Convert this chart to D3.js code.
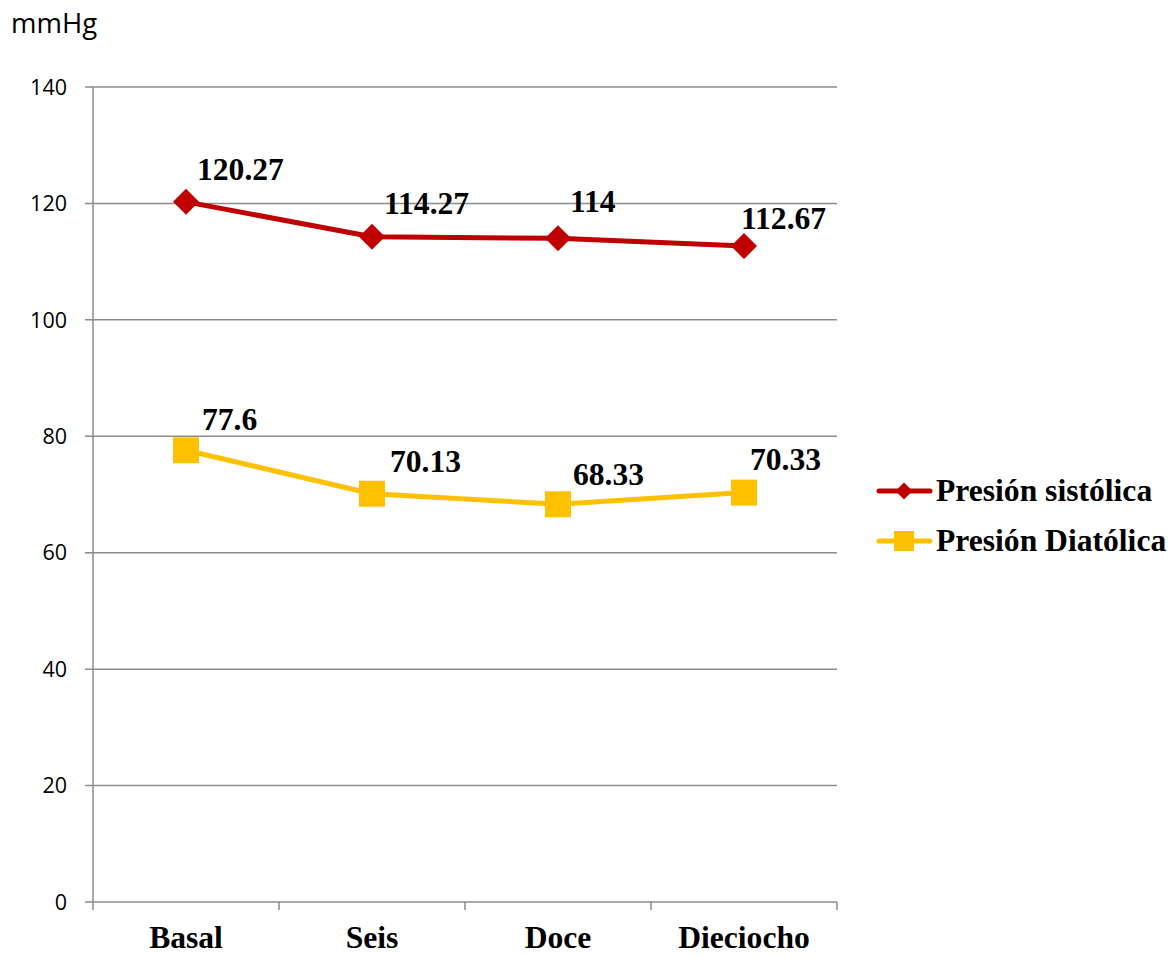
<!DOCTYPE html>
<html>
<head>
<meta charset="utf-8">
<script src="https://cdn.jsdelivr.net/npm/d3@7"></script>
<style>
  html, body { margin: 0; padding: 0; background: #fff; }
  svg { display: block; }
</style>
</head>
<body>
<div id="chart"></div>
<script>
// Blood pressure at each visit (mmHg)
const categories = ["Basal", "Seis", "Doce", "Dieciocho"];
const sistolica = [120.27, 114.27, 114, 112.67];
const diastolica = [77.6, 70.13, 68.33, 70.33];
const seriesNames = ["Presión sistólica", "Presión Diatólica"];
const yTicks = [0, 20, 40, 60, 80, 100, 120, 140];
const yUnit = "mmHg";

const W = 1176, H = 957;
const plot = { left: 93, right: 837, top: 87, bottom: 902 };
const red = "#C00000", gold = "#FFC000", grid = "#8c8c8c";
const serif = "'Liberation Serif', 'Times New Roman', serif";
const sans = "'Open Sans', 'Liberation Sans', sans-serif";
const labelSize = 31.6;

const svg = d3.select("#chart").append("svg")
  .attr("width", W).attr("height", H);

const x = d3.scaleBand().domain(categories)
  .range([plot.left, plot.right]).paddingInner(0).paddingOuter(0);
const y = d3.scaleLinear().domain([0, 140]).range([plot.bottom, plot.top]);
const cx = c => x(c) + x.bandwidth() / 2;

// horizontal gridlines
svg.append("g").selectAll("line").data(yTicks).join("line")
  .attr("x1", plot.left - 8).attr("x2", plot.right)
  .attr("y1", d => y(d)).attr("y2", d => y(d))
  .attr("stroke", grid).attr("stroke-width", 1.5);

// vertical axis line
svg.append("line")
  .attr("x1", plot.left).attr("x2", plot.left)
  .attr("y1", plot.top).attr("y2", plot.bottom + 8)
  .attr("stroke", grid).attr("stroke-width", 1.5);

// category boundary ticks
const bounds = categories.map(c => x(c)).concat([plot.right]);
svg.append("g").selectAll("line").data(bounds.slice(1)).join("line")
  .attr("x1", d => d).attr("x2", d => d)
  .attr("y1", plot.bottom).attr("y2", plot.bottom + 8)
  .attr("stroke", grid).attr("stroke-width", 1.5);

// y tick labels
svg.append("g").selectAll("text").data(yTicks).join("text")
  .attr("x", 67).attr("y", d => y(d))
  .attr("dy", "0.36em")
  .attr("text-anchor", "end")
  .attr("font-family", sans).attr("font-size", 21.5)
  .attr("fill", "#000")
  .text(d => d);

// unit label
svg.append("text")
  .attr("x", 11).attr("y", 33)
  .attr("font-family", sans).attr("font-size", 27.5)
  .attr("fill", "#000")
  .text(yUnit);

// category labels
svg.append("g").selectAll("text").data(categories).join("text")
  .attr("x", d => cx(d)).attr("y", 948)
  .attr("text-anchor", "middle")
  .attr("font-family", serif).attr("font-weight", "bold").attr("font-size", labelSize)
  .attr("fill", "#000")
  .text(d => d);

const line = d3.line().x((d, i) => cx(categories[i])).y(d => y(d));

// diastolic series
svg.append("path").datum(diastolica)
  .attr("d", line).attr("fill", "none")
  .attr("stroke", gold).attr("stroke-width", 5).attr("stroke-linejoin", "round");
svg.append("g").selectAll("rect").data(diastolica).join("rect")
  .attr("x", (d, i) => cx(categories[i]) - 13)
  .attr("y", d => y(d) - 13)
  .attr("width", 26).attr("height", 26)
  .attr("fill", gold);

// systolic series
svg.append("path").datum(sistolica)
  .attr("d", line).attr("fill", "none")
  .attr("stroke", red).attr("stroke-width", 5).attr("stroke-linejoin", "round");
const diamond = r => `M0,${-r}L${r},0L0,${r}L${-r},0Z`;
svg.append("g").selectAll("path").data(sistolica).join("path")
  .attr("transform", (d, i) => `translate(${cx(categories[i])},${y(d)})`)
  .attr("d", diamond(13))
  .attr("fill", red);

// value labels (offsets relative to each marker)
const sisOffsets = [[11, -22], [12, -23], [12, -26], [-3, -17]];
const diaOffsets = [[16, -20], [18, -22], [15, -19], [6, -23]];
function labels(values, offsets) {
  svg.append("g").selectAll("text").data(values).join("text")
    .attr("x", (d, i) => cx(categories[i]) + offsets[i][0])
    .attr("y", (d, i) => y(d) + offsets[i][1])
    .attr("font-family", serif).attr("font-weight", "bold").attr("font-size", labelSize)
    .attr("fill", "#000")
    .text(d => d);
}
labels(sistolica, sisOffsets);
labels(diastolica, diaOffsets);

// legend
const legend = svg.append("g");
const rows = [
  { name: seriesNames[0], color: red, y: 491, marker: "diamond" },
  { name: seriesNames[1], color: gold, y: 541, marker: "square" }
];
rows.forEach(r => {
  legend.append("line")
    .attr("x1", 879).attr("x2", 930)
    .attr("y1", r.y).attr("y2", r.y)
    .attr("stroke", r.color).attr("stroke-width", 5).attr("stroke-linecap", "round");
  if (r.marker === "diamond") {
    legend.append("path")
      .attr("transform", `translate(904,${r.y})`)
      .attr("d", diamond(8.5)).attr("fill", r.color);
  } else {
    legend.append("rect")
      .attr("x", 894).attr("y", r.y - 10)
      .attr("width", 20).attr("height", 20).attr("fill", r.color);
  }
  legend.append("text")
    .attr("x", 936).attr("y", r.y + 10)
    .attr("font-family", serif).attr("font-weight", "bold").attr("font-size", labelSize)
    .attr("fill", "#000")
    .text(r.name);
});
</script>
</body>
</html>
